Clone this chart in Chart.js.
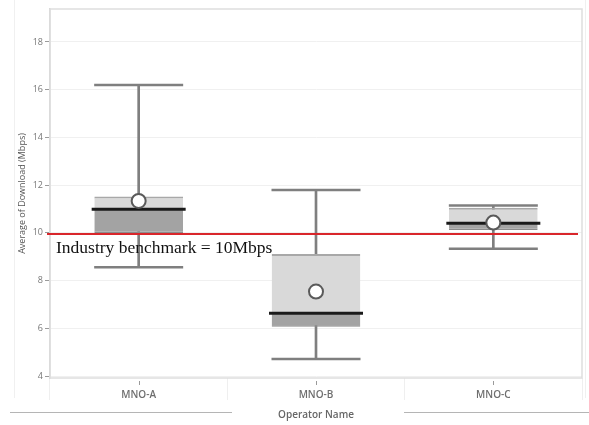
<!DOCTYPE html>
<html>
<head>
<meta charset="utf-8">
<script src="https://cdn.jsdelivr.net/npm/chart.js@4.4.1/dist/chart.umd.min.js"></script>
<style>
  html, body { margin: 0; padding: 0; background: #ffffff; }
  #wrap { position: relative; width: 589px; height: 425px; }
</style>
</head>
<body>
<div id="wrap"><canvas id="chart" width="589" height="425"></canvas></div>
<script>
// Operators on the x axis
const operators = ['MNO-A', 'MNO-B', 'MNO-C'];

// Download speed distribution per operator (Mbps)
const whiskerLow  = [8.56, 4.72, 9.33];
const quartile1   = [10.0, 6.07, 10.12];
const medians     = [10.99, 6.63, 10.4];
const quartile3   = [11.52, 9.12, 11.05];
const whiskerHigh = [16.2, 11.8, 11.15];
const means       = [11.34, 7.54, 10.43];

// Reference line
const benchmark = 10;
const benchmarkLabel = 'Industry benchmark = 10Mbps';

// Y axis tick values
const yTicks = [4, 6, 8, 10, 12, 14, 16, 18];

const GREY_WHISKER = '#7f7f7f';

// Draws the plot frame, the benchmark line with its label, and small category ticks
const decorations = {
  id: 'decorations',
  beforeDatasetsDraw(chart) {
    const { ctx, chartArea: a } = chart;
    ctx.save();
    // plot frame
    ctx.strokeStyle = '#dedede';
    ctx.lineWidth = 1.5;
    ctx.strokeRect(a.left, a.top, a.right - a.left, a.bottom - a.top);
    ctx.restore();
  },
  afterDatasetsDraw(chart) {
    const { ctx, chartArea: a, scales: { y } } = chart;
    ctx.save();
    // benchmark line
    const by = y.getPixelForValue(benchmark) + 1;
    ctx.strokeStyle = '#d9262b';
    ctx.lineWidth = 2;
    ctx.beginPath();
    ctx.moveTo(a.left - 3, by);
    ctx.lineTo(a.right - 4, by);
    ctx.stroke();
    // benchmark label
    ctx.fillStyle = '#111111';
    ctx.font = '17.5px "Liberation Serif", "Times New Roman", serif';
    ctx.textBaseline = 'middle';
    ctx.textAlign = 'left';
    ctx.fillText(benchmarkLabel, a.left + 6, by + 15);
    ctx.restore();
  },
  afterDraw(chart) {
    const { ctx, chartArea: a, scales: { x } } = chart;
    ctx.save();
    // small tick under each category
    ctx.strokeStyle = '#9a9a9a';
    ctx.lineWidth = 1;
    operators.forEach((_, i) => {
      const px = Math.round(x.getPixelForValue(i)) + 0.5;
      ctx.beginPath();
      ctx.moveTo(px, a.bottom + 3);
      ctx.lineTo(px, a.bottom + 7);
      ctx.stroke();
    });
    // faint outer panel
    ctx.strokeStyle = '#f0f0f0';
    ctx.beginPath();
    ctx.moveTo(14.5, 0); ctx.lineTo(14.5, 398);
    ctx.moveTo(585.5, 0); ctx.lineTo(585.5, 398);
    ctx.stroke();
    // rules either side of the axis title
    ctx.strokeStyle = '#b5b5b5';
    ctx.lineWidth = 1;
    ctx.beginPath();
    ctx.moveTo(10, 412.5); ctx.lineTo(232, 412.5);
    ctx.moveTo(404, 412.5); ctx.lineTo(589, 412.5);
    ctx.stroke();
    ctx.restore();
  }
};

new Chart(document.getElementById('chart'), {
  type: 'bar',
  data: {
    labels: operators,
    datasets: [
      {
        type: 'line',
        label: 'Mean',
        data: means,
        showLine: false,
        pointStyle: 'circle',
        pointRadius: 7,
        pointBackgroundColor: '#ffffff',
        pointBorderColor: '#5a5a5a',
        pointBorderWidth: 2,
        order: 1
      },
      {
        type: 'line',
        label: 'Median',
        data: medians,
        showLine: false,
        pointStyle: 'line',
        pointRadius: 47,
        pointBorderColor: '#1a1a1a',
        pointBorderWidth: 3,
        order: 2
      },
      {
        type: 'line',
        label: 'Upper cap',
        data: whiskerHigh,
        showLine: false,
        pointStyle: 'line',
        pointRadius: 44.5,
        pointBorderColor: GREY_WHISKER,
        pointBorderWidth: 2.5,
        order: 3
      },
      {
        type: 'line',
        label: 'Lower cap',
        data: whiskerLow,
        showLine: false,
        pointStyle: 'line',
        pointRadius: 44.5,
        pointBorderColor: GREY_WHISKER,
        pointBorderWidth: 2.5,
        order: 3
      },
      {
        label: 'Upper box',
        data: operators.map((_, i) => [medians[i], quartile3[i]]),
        backgroundColor: '#d9d9d9',
        borderColor: '#a8a8a8',
        borderWidth: { top: 2, bottom: 0, left: 0, right: 0 },
        borderSkipped: false,
        grouped: false,
        categoryPercentage: 1,
        barPercentage: 0.5,
        order: 4
      },
      {
        label: 'Lower box',
        data: operators.map((_, i) => [quartile1[i], medians[i]]),
        backgroundColor: '#a3a3a3',
        borderColor: '#8c8c8c',
        borderWidth: { top: 0, bottom: 1.5, left: 0, right: 0 },
        borderSkipped: false,
        grouped: false,
        categoryPercentage: 1,
        barPercentage: 0.5,
        order: 4
      },
      {
        label: 'Whisker',
        data: operators.map((_, i) => [whiskerLow[i], whiskerHigh[i]]),
        backgroundColor: GREY_WHISKER,
        barThickness: 2,
        grouped: false,
        order: 5
      }
    ]
  },
  options: {
    responsive: false,
    animation: false,
    events: [],
    layout: { autoPadding: false, padding: { top: 9, right: 7, left: 0, bottom: 0 } },
    plugins: {
      legend: { display: false },
      tooltip: { enabled: false }
    },
    scales: {
      x: {
        offset: true,
        grid: {
          offset: true,
          drawOnChartArea: false,
          color: '#efefef',
          tickColor: '#efefef',
          tickLength: 22,
          lineWidth: 1
        },
        border: { display: false },
        ticks: {
          padding: -11,
          color: '#6e6e6e',
          font: { family: '"Open Sans", "Noto Sans", sans-serif', size: 10, weight: '600' }
        },
        title: {
          display: true,
          text: 'Operator Name',
          color: '#666666',
          padding: { top: 0, bottom: 4 },
          font: { family: '"Open Sans", "Noto Sans", sans-serif', size: 10, weight: '600' }
        },
        afterFit(scale) { scale.height = 47; }
      },
      y: {
        min: 3.92,
        max: 19.38,
        afterBuildTicks(scale) { scale.ticks = yTicks.map(v => ({ value: v })); },
        grid: {
          color: '#f0f0f0',
          tickColor: '#9a9a9a',
          tickLength: 5,
          lineWidth: 1
        },
        border: { display: true, color: '#d2d2d2', width: 1.5 },
        ticks: {
          padding: 2,
          color: '#777777',
          font: { family: '"Open Sans", "Noto Sans", sans-serif', size: 9 }
        },
        title: {
          display: true,
          text: 'Average of Download (Mbps)',
          color: '#555555',
          padding: { top: 17, bottom: 0 },
          font: { family: '"Open Sans", "Noto Sans", sans-serif', size: 9 }
        },
        afterFit(scale) { scale.width = 50; }
      }
    }
  },
  plugins: [decorations]
});
</script>
</body>
</html>
